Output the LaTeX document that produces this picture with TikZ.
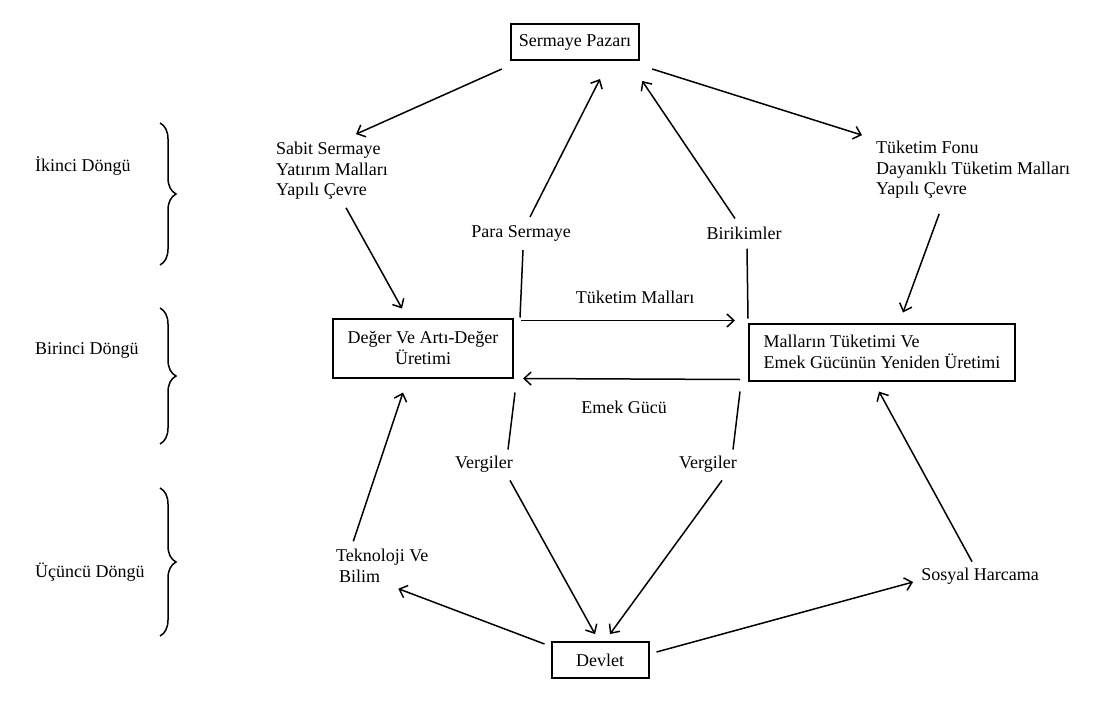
\documentclass[tikz,border=0pt]{standalone}
\usepackage{fontspec}
\setmainfont{Liberation Serif}
\usetikzlibrary{arrows.meta,decorations.pathreplacing}
\begin{document}
\begin{tikzpicture}[x=1pt,y=-1pt,
    font=\fontsize{18}{20.5}\selectfont,
    kutu/.style={draw,line width=2pt,inner xsep=8pt,minimum height=36pt},
    yazi/.style={inner sep=2pt,align=left},
    ok/.style={-{Straight Barb[length=7pt,width=13pt,line width=1.5pt]},line width=1.5pt},
    cizgi/.style={line width=1.5pt},
    parantez/.style={decorate,decoration={brace,amplitude=16pt},line width=1.5pt}]
    \useasboundingbox (0,0) rectangle (1105,709);
    \node[kutu] (pazar) at (575,42) {Sermaye Pazarı};
    \node[yazi,anchor=west] (sabit) at (274,171) {Sabit Sermaye\\Yatırım Malları\\Yapılı Çevre};
    \node[yazi,anchor=west] (fonu) at (874,170) {Tüketim Fonu\\Dayanıklı Tüketim Malları\\Yapılı Çevre};
    \node[kutu,align=center,minimum width=180pt,minimum height=59pt] (deger) at (423,348) {Değer Ve Artı-Değer\\Üretimi};
    \node[kutu,align=left,minimum width=266pt,minimum height=57pt] (mallar) at (882,352) {Malların Tüketimi Ve\\Emek Gücünün Yeniden Üretimi};
    \node[kutu,minimum width=97pt] (devlet) at (600,660) {Devlet};
    \node[yazi,anchor=west] (tekno) at (334,566) {Teknoloji Ve\\\,Bilim};
    \node[yazi] (sosyal) at (980,576) {Sosyal Harcama};
    \node[yazi] (para) at (521,233) {Para Sermaye};
    \node[yazi] (birik) at (744,233) {Birikimler};
    \node[yazi] (tmal) at (635,297) {Tüketim Malları};
    \node[yazi] (emek) at (624,407) {Emek Gücü};
    \node[yazi] (vergi1) at (484,464) {Vergiler};
    \node[yazi] (vergi2) at (708,464) {Vergiler};
    \node[yazi,anchor=west] (ikinci) at (33,166) {İkinci Döngü};
    \node[yazi,anchor=west] (birinci) at (33,350) {Birinci Döngü};
    \node[yazi,anchor=west] (ucuncu) at (33,572) {Üçüncü Döngü};
    \draw[parantez] (160,123) -- (160,265);
    \draw[parantez] (160,308) -- (160,444);
    \draw[parantez] (160,488) -- (160,636);
    \draw[ok] ([xshift=-8pt,yshift=-8pt]pazar.south west) -- ([xshift=24pt,yshift=6pt]sabit.north);
    \draw[ok] ([xshift=12pt,yshift=-8pt]pazar.south east) -- ([xshift=-12pt,yshift=4pt]fonu.north west);
    \draw[ok] ([xshift=14pt,yshift=-6pt]sabit.south) -- ([xshift=-21pt,yshift=9pt]deger.north);
    \draw[ok] ([xshift=-34pt,yshift=-13pt]fonu.south) -- ([xshift=21pt,yshift=10pt]mallar.north);
    \draw[cizgi] ([xshift=6pt]deger.north east) -- ([xshift=2pt,yshift=-7pt]para.south);
    \draw[ok] ([xshift=9pt,yshift=6pt]para.north) -- ([xshift=25pt,yshift=-18pt]pazar.south);
    \draw[cizgi] ([yshift=4pt]mallar.north west) -- ([xshift=3pt,yshift=-7pt]birik.south);
    \draw[ok] ([xshift=-9pt,yshift=6pt]birik.north) -- ([xshift=2pt,yshift=-20pt]pazar.south east);
    \draw[ok] ([xshift=7pt,yshift=-3pt]deger.north east) -- ([xshift=-13pt,yshift=2pt]mallar.north west);
    \draw[ok] ([xshift=-8pt,yshift=2pt]mallar.south west) -- ([xshift=9pt]deger.south east);
    \draw[cizgi] ([xshift=1pt,yshift=-14pt]deger.south east) -- ([xshift=24pt,yshift=4pt]vergi1.north);
    \draw[ok] ([xshift=26pt,yshift=-6pt]vergi1.south) -- ([xshift=-5pt,yshift=7pt]devlet.north);
    \draw[cizgi] ([xshift=-8pt,yshift=-10pt]mallar.south west) -- ([xshift=25pt,yshift=4pt]vergi2.north);
    \draw[ok] ([xshift=14pt,yshift=-6pt]vergi2.south) -- ([xshift=10pt,yshift=7pt]devlet.north);
    \draw[ok] ([xshift=-6pt,yshift=-3pt]devlet.north west) -- ([xshift=16pt,yshift=-4pt]tekno.south);
    \draw[ok] ([xshift=-29pt,yshift=6pt]tekno.north) -- ([xshift=-20pt,yshift=-14pt]deger.south);
    \draw[ok] ([xshift=7pt,yshift=8pt]devlet.east) -- ([xshift=-6pt,yshift=-6pt]sosyal.west);
    \draw[ok] ([xshift=-8pt,yshift=4pt]sosyal.north) -- ([xshift=-3pt,yshift=-10pt]mallar.south);
\end{tikzpicture}
\end{document}
